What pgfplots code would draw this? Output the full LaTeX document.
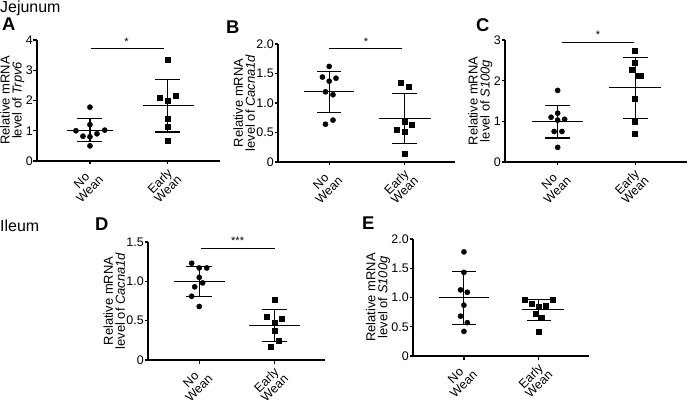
\documentclass[border=0pt]{standalone}
\usepackage{fontspec}
\setmainfont{Liberation Sans}
\usepackage{pgfplots}
\pgfplotsset{compat=1.18}
\pgfplotsset{
  gp/.style={
    scale only axis,
    anchor=south west,
    axis x line*=bottom, axis y line*=left,
    axis line style={line width=1.6pt,-},
    xmin=-0.68, xmax=1.67, ymin=0,
    xtick={0,1}, xticklabels={{No\\Wean},{Early\\Wean}},
    xticklabel style={rotate=45, anchor=north east, align=center, font=\fontsize{12.5}{11.5}\selectfont, inner sep=1pt},
    tick align=outside, major tick length=3.5bp,
    tick style={line width=1.2pt, black},
    yticklabel style={font=\fontsize{12.5}{12.5}\selectfont, inner sep=0.5pt},
    ylabel style={align=center, font=\fontsize{13}{12}\selectfont, yshift=-2.5bp},
    /pgf/number format/assume math mode=true,
    clip=false,
  },
  ln/.style={black, line width=1.1pt, unbounded coords=jump, mark=none},
  circ/.style={only marks, mark=*, mark size=2.6bp, black},
  sq/.style={only marks, mark=square*, mark size=2.5bp, black},
}
\begin{document}
\begin{tikzpicture}
\useasboundingbox (0bp,0bp) rectangle (689bp,403bp);
\node[anchor=base west, inner sep=0, font=\fontsize{16}{16}\selectfont] at (0bp,390bp) {Jejunum};
\node[anchor=base west, inner sep=0, font=\fontsize{16}{16}\selectfont] at (0bp,171bp) {Ileum};
\node[anchor=north west, inner sep=0, font=\bfseries\fontsize{18.5}{18.5}\selectfont] at (2bp,385bp) {A};
\node[anchor=north west, inner sep=0, font=\bfseries\fontsize{18.5}{18.5}\selectfont] at (226bp,382bp) {B};
\node[anchor=north west, inner sep=0, font=\bfseries\fontsize{18.5}{18.5}\selectfont] at (476bp,385bp) {C};
\node[anchor=north west, inner sep=0, font=\bfseries\fontsize{18.5}{18.5}\selectfont] at (95bp,185bp) {D};
\node[anchor=north west, inner sep=0, font=\bfseries\fontsize{18.5}{18.5}\selectfont] at (362bp,186bp) {E};

% Panel A
\begin{axis}[gp, at={(37bp,242bp)}, width=183bp, height=121bp, ymax=4,
  ytick={0,1,2,3,4}, yticklabels={0,1,2,3,4},
  ylabel={Relative mRNA\\level of \textit{Trpv6}}]
\addplot[circ] coordinates {(0,1.78) (0,1.2) (-0.18,1.0) (0.19,1.02) (-0.09,0.82) (0,0.8) (0.09,0.9) (0,0.5)};
\addplot[sq] coordinates {(1,3.34) (0.9,2.08) (1,1.99) (1.1,2.16) (1,1.40) (1,1.13) (1,0.67)};
\addplot[ln] coordinates {(-0.3,1.0) (0.3,1.0) (0,nan) (0,0.64) (0,1.39) (0,nan) (-0.16,1.39) (0.16,1.39) (0,nan) (-0.16,0.64) (0.16,0.64)};
\addplot[ln] coordinates {(0.68,1.82) (1.33,1.82) (1,nan) (1,0.96) (1,2.68) (1,nan) (0.84,2.68) (1.16,2.68) (1,nan) (0.84,0.96) (1.16,0.96)};
\addplot[ln] coordinates {(0.01,3.72) (0.95,3.72)};
\node[font=\fontsize{11}{11}\selectfont] at (axis cs:0.47,3.93) {*};
\end{axis}

% Panel B
\begin{axis}[gp, at={(278bp,241bp)}, width=177bp, height=118bp, ymax=2,
  ytick={0,0.5,1,1.5,2}, yticklabels={0,0.5,1.0,1.5,2.0},
  ylabel={Relative mRNA\\level of \textit{Cacna1d}}]
\addplot[circ] coordinates {(0,1.62) (-0.09,1.44) (0,1.37) (0.09,1.42) (-0.05,1.19) (0.05,1.14) (-0.05,0.64) (0.05,0.71)};
\addplot[sq] coordinates {(0.95,1.35) (1.05,1.27) (1,0.68) (1.1,0.63) (0.9,0.55) (1,0.52) (1,0.14)};
\addplot[ln] coordinates {(-0.33,1.19) (0.33,1.19) (0,nan) (0,0.84) (0,1.54) (0,nan) (-0.16,1.54) (0.16,1.54) (0,nan) (-0.16,0.84) (0.16,0.84)};
\addplot[ln] coordinates {(0.66,0.74) (1.35,0.74) (1,nan) (1,0.31) (1,1.16) (1,nan) (0.84,1.16) (1.16,1.16) (1,nan) (0.84,0.31) (1.16,0.31)};
\addplot[ln] coordinates {(0,1.93) (0.96,1.93)};
\node[font=\fontsize{11}{11}\selectfont] at (axis cs:0.49,2.04) {*};
\end{axis}

% Panel C
\begin{axis}[gp, at={(505bp,241bp)}, width=182bp, height=122bp, ymax=3,
  ytick={0,1,2,3}, yticklabels={0,1,2,3},
  ylabel={Relative mRNA\\level of \textit{S100g}}]
\addplot[circ] coordinates {(0,1.76) (0,1.2) (-0.085,1.1) (0.09,1.05) (0,1.03) (-0.045,0.75) (0.055,0.75) (0,0.36)};
\addplot[sq] coordinates {(1,2.73) (1,2.43) (0.96,2.28) (1.04,2.13) (1.07,2.13) (1,1.55) (1,1.0) (1,0.70)};
\addplot[ln] coordinates {(-0.33,1.0) (0.33,1.0) (0,nan) (0,0.59) (0,1.40) (0,nan) (-0.16,1.40) (0.16,1.40) (0,nan) (-0.16,0.59) (0.16,0.59)};
\addplot[ln] coordinates {(0.66,1.83) (1.33,1.83) (1,nan) (1,1.07) (1,2.58) (1,nan) (0.84,2.58) (1.16,2.58) (1,nan) (0.84,1.07) (1.16,1.07)};
\addplot[ln] coordinates {(0.05,2.94) (0.99,2.94)};
\node[font=\fontsize{11}{11}\selectfont] at (axis cs:0.52,3.12) {*};
\end{axis}

% Panel D
\begin{axis}[gp, at={(148bp,43bp)}, width=177bp, height=118bp, ymax=1.5,
  ytick={0,0.5,1,1.5}, yticklabels={0,0.5,1.0,1.5},
  ylabel={Relative mRNA\\level of \textit{Cacna1d}}]
\addplot[circ] coordinates {(-0.1,1.23) (0,1.17) (0.1,1.17) (0,1.05) (-0.06,0.93) (0.045,0.98) (-0.1,0.81) (0,0.68)};
\addplot[sq] coordinates {(1,0.77) (0.9,0.55) (1.1,0.53) (1,0.47) (1,0.37) (1.05,0.24) (0.95,0.17)};
\addplot[ln] coordinates {(-0.34,1.0) (0.34,1.0) (0,nan) (0,0.81) (0,1.19) (0,nan) (-0.17,1.19) (0.17,1.19) (0,nan) (-0.17,0.81) (0.17,0.81)};
\addplot[ln] coordinates {(0.66,0.44) (1.34,0.44) (1,nan) (1,0.24) (1,0.64) (1,nan) (0.83,0.64) (1.17,0.64) (1,nan) (0.83,0.24) (1.17,0.24)};
\addplot[ln] coordinates {(0.03,1.42) (1.0,1.42)};
\node[font=\fontsize{11}{11}\selectfont] at (axis cs:0.51,1.52) {***};
\end{axis}

% Panel E
\begin{axis}[gp, at={(413bp,47bp)}, width=176bp, height=117bp, ymax=2,
  ytick={0,0.5,1,1.5,2}, yticklabels={0,0.5,1.0,1.5,2.0},
  ylabel={Relative mRNA\\level of \textit{S100g}}]
\addplot[circ] coordinates {(0,1.78) (0,1.43) (-0.045,1.13) (0.045,1.09) (0,0.87) (-0.045,0.68) (0.045,0.57) (0,0.42)};
\addplot[sq] coordinates {(0.81,0.97) (1.19,0.96) (0.9,0.89) (1.09,0.86) (1.0,0.85) (0.96,0.72) (1.04,0.66) (1.0,0.42)};
\addplot[ln] coordinates {(-0.33,1.0) (0.33,1.0) (0,nan) (0,0.54) (0,1.45) (0,nan) (-0.16,1.45) (0.16,1.45) (0,nan) (-0.16,0.54) (0.16,0.54)};
\addplot[ln] coordinates {(0.78,0.79) (1.33,0.79) (1,nan) (1,0.61) (1,0.97) (1,nan) (0.84,0.97) (1.16,0.97) (1,nan) (0.84,0.61) (1.16,0.61)};
\end{axis}
\end{tikzpicture}
\end{document}
